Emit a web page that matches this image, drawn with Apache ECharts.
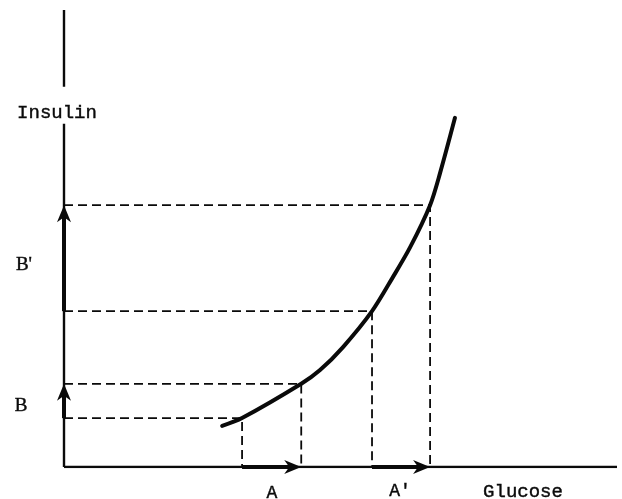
<!DOCTYPE html>
<html>
<head>
<meta charset="utf-8">
<script src="https://cdn.jsdelivr.net/npm/echarts@6/dist/echarts.min.js"></script>
<style>html,body{margin:0;padding:0;background:#fff;}#c{width:622px;height:499px;}</style>
</head>
<body>
<div id="c"></div>
<script>
// Glucose (x) and insulin (y) in arbitrary units 0..100
const curveGlucose = [28.6, 32.2, 42.9, 46.3, 50.5, 55.7, 59.5, 62.6, 66.2, 68.0, 70.7];
const curveInsulin = [9.0, 10.7, 18.2, 21.2, 26.3, 34.1, 41.6, 48.1, 57.3, 64.3, 76.4];
// reference points on the curve: A (low), A (high), A' (low), A' (high)
const guideGlucose = [32.2, 42.9, 55.7, 66.2];
const guideInsulin = [10.7, 18.2, 34.1, 57.3];
const axisMax = 100;
const insulinGap = [75.1, 83.2];

const ink = '#0a0a0a';
const curve = curveGlucose.map((x, i) => [x, curveInsulin[i]]);

const dashed = [];
guideGlucose.forEach((gx, i) => {
  const gy = guideInsulin[i];
  dashed.push({
    type: 'line', data: [[0, gy], [gx, gy], [gx, 0]], symbol: 'none', silent: true,
    lineStyle: {color: ink, width: 1.8, type: [9, 5]}, z: 2
  });
});

const axisSegs = [
  [[0, 0], [axisMax, 0]],
  [[0, 0], [0, insulinGap[0]]],
  [[0, insulinGap[1]], [0, axisMax]]
].map(d => ({type: 'line', data: d, symbol: 'none', silent: true,
  lineStyle: {color: ink, width: 2.4}, z: 3}));

// arrows: [x0, y0, x1, y1]
const arrowData = [
  [0, guideInsulin[0], 0, guideInsulin[1]],
  [0, guideInsulin[2], 0, guideInsulin[3]],
  [guideGlucose[0], 0, guideGlucose[1], 0],
  [guideGlucose[2], 0, guideGlucose[3], 0]
];
const arrows = {
  type: 'custom', silent: true, z: 5, data: arrowData,
  renderItem: function (params, api) {
    const p0 = api.coord([api.value(0), api.value(1)]);
    const p1 = api.coord([api.value(2), api.value(3)]);
    const dx = p1[0] - p0[0], dy = p1[1] - p0[1];
    const len = Math.sqrt(dx * dx + dy * dy);
    const ux = dx / len, uy = dy / len;
    const nx = -uy, ny = ux;
    const L = 17, W = 7;
    const base = [p1[0] - ux * L, p1[1] - uy * L];
    const notch = [p1[0] - ux * (L - 5), p1[1] - uy * (L - 5)];
    return {
      type: 'group',
      children: [
        {type: 'line', shape: {x1: p0[0], y1: p0[1], x2: notch[0], y2: notch[1]},
          style: {stroke: ink, lineWidth: 4}},
        {type: 'polygon', shape: {points: [
          p1,
          [base[0] + nx * W, base[1] + ny * W],
          notch,
          [base[0] - nx * W, base[1] - ny * W]
        ]}, style: {fill: ink}}
      ]
    };
  }
};

const chart = echarts.init(document.getElementById('c'));
const mono = 'Liberation Mono, DejaVu Sans Mono, monospace';
const serif = 'Liberation Serif, DejaVu Serif, serif';
function txt(t, x, y, font) {
  return {type: 'text', x: x, y: y, style: {text: t, font: font, fill: ink, stroke: ink, lineWidth: 0.4, align: 'center', verticalAlign: 'middle'}};
}
chart.setOption({
  animation: false,
  backgroundColor: '#fff',
  grid: {left: 64, right: 5, top: 10, bottom: 32},
  xAxis: {type: 'value', min: 0, max: axisMax, show: false},
  yAxis: {type: 'value', min: 0, max: axisMax, show: false},
  graphic: [
    txt('Insulin', 57, 113, '19px ' + mono),
    txt('Glucose', 523, 492, '19px ' + mono),
    txt('A', 272, 493, '18px ' + mono),
    txt("A'", 400, 491, '18px ' + mono),
    txt('B', 21, 406, '19px ' + serif),
    txt("B'", 24, 265, '19px ' + serif)
  ],
  series: [
    ...dashed,
    ...axisSegs,
    arrows,
    {type: 'line', data: curve, smooth: 0.3, symbol: 'none', silent: true,
      lineStyle: {color: ink, width: 4, cap: 'round', join: 'round'}, z: 4}
  ]
});
</script>
</body>
</html>
